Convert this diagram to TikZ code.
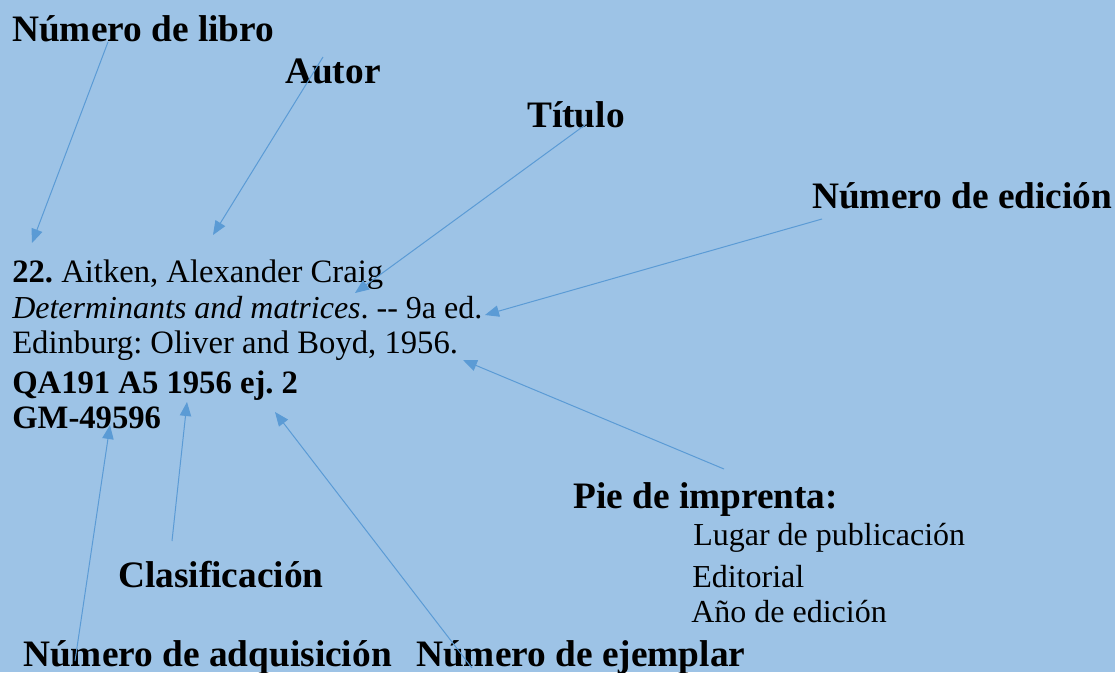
\documentclass[tikz,border=0pt]{standalone}
\usepackage{fontspec}
\setmainfont{Liberation Serif}
\usetikzlibrary{arrows.meta,positioning}
\definecolor{bgblue}{RGB}{157,195,230}
\definecolor{arrowblue}{RGB}{91,155,213}
\frenchspacing
\tikzset{
  lbl/.style={inner sep=0pt, anchor=base west, font=\bfseries\fontsize{28}{32}\selectfont},
  rec/.style={inner sep=0pt, anchor=base west, font=\fontsize{24.5}{28}\selectfont},
  ptr/.style={draw=arrowblue, line width=0.75pt, -{Triangle[length=10.5pt,width=8.5pt]}}
}
\begin{document}
\begin{tikzpicture}[x=0.75pt,y=-0.75pt]
\fill[bgblue] (0,0) rectangle (1115,672);
\useasboundingbox (0,0) rectangle (1115,672);

% labels
\node[lbl] at (12,41) (libro) {Número de libro};
\node[lbl] at (285,83) (autor) {Autor};
\node[lbl] at (527,127) (titulo) {Título};
\node[lbl] at (812,208) (edicion) {Número de edición};
\node[lbl] at (573,508) (pie) {Pie de imprenta:};
\node[lbl] at (118,587) (clasif) {Clasificación};
\node[lbl] at (23,666) (adq) {Número de adquisición};
\node[lbl] at (416,666) (ejemplar) {Número de ejemplar};

\node[rec, font=\fontsize{24}{28}\selectfont] at (693,545) (lugar) {Lugar de publicación};
\node[rec, font=\fontsize{24}{28}\selectfont] at (692,587) (editorial) {Editorial};
\node[rec, font=\fontsize{24}{28}\selectfont] at (691,622) (anio) {Año de edición};

% record
\node[rec] at (12,282) (r1) {\textbf{22.} Aitken, Alexander Craig};
\node[rec, font=\fontsize{24}{28}\selectfont] at (12,318) (r2) {\textit{Determinants and matrices}. {-}{-} 9a ed.};
\node[rec] at (12,353) (r3) {Edinburg: Oliver and Boyd, 1956.};
\node[rec] at (12,393) (r4) {\textbf{QA191 A5 1956 ej. 2}};
\node[rec] at (12,428) (r5) {\textbf{GM-49596}};

% arrow ends
\coordinate (a1) at (108,42);  \coordinate (t1) at (32,243);
\coordinate (a2) at (323,57);  \coordinate (t2) at (213,235);
\coordinate (a3) at (585,125); \coordinate (t3) at (355,293);
\coordinate (a4) at (822,219); \coordinate (t4) at (485,315);
\coordinate (a5) at (724,469); \coordinate (t5) at (463,360);
\coordinate (a6) at (172,541); \coordinate (t6) at (187,402);
\coordinate (a7) at (75,661);  \coordinate (t7) at (110,425);
\coordinate (a8) at (472,668); \coordinate (t8) at (275,412);

\draw[ptr] (a1) -- (t1);
\draw[ptr] (a2) -- (t2);
\draw[ptr] (a3) -- (t3);
\draw[ptr] (a4) -- (t4);
\draw[ptr] (a5) -- (t5);
\draw[ptr] (a6) -- (t6);
\draw[ptr] (a7) -- (t7);
\draw[ptr] (a8) -- (t8);
\end{tikzpicture}
\end{document}
